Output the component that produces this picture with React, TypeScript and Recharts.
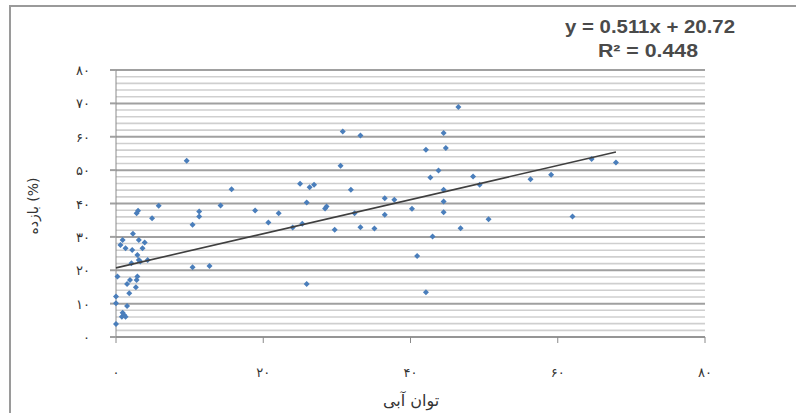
import React from 'react';
import { ScatterChart, Scatter, XAxis, YAxis, CartesianGrid, ReferenceLine } from 'recharts';

// توان آبی (x) and بازده (%) (y)
const powerX = [
  0, 0.8, 1.3, 1.1, 0.9, 1.5, 0, 0, 1.8, 2.7, 1.5, 1.9, 2.8, 2.9, 0.2, 2.1, 3.1, 4.3, 3.3, 2.9,
  3.6, 1.3, 2.2, 0.6, 3.9, 0.9, 3.1, 2.3, 2.8, 3.0, 4.9, 5.8,
  9.6, 10.4, 11.3, 11.3, 10.4, 12.7, 14.2, 15.7, 18.9, 20.7, 22.1, 24.0, 25.3, 25.9, 25.0, 26.3, 26.9, 25.9,
  28.6, 28.4, 29.7, 30.5, 30.8, 31.9, 32.4, 33.2, 33.2, 35.1, 36.5, 37.8, 36.5, 40.2, 40.9, 42.1, 42.1, 42.7,
  43.0, 43.8, 44.5, 44.8, 44.5, 44.5, 44.5, 46.5, 46.8, 48.5, 49.4, 50.6, 56.3, 59.1, 62.0, 64.6, 67.9,
];
const efficiencyY = [
  3.9, 6.1, 6.1, 6.6, 7.3, 9.3, 10.1, 12.1, 13.1, 14.9, 15.9, 17.1, 17.1, 18.1, 18.1, 22.1, 23.1, 23.1, 22.6, 24.6,
  26.6, 26.6, 26.1, 27.6, 28.3, 29.1, 29.1, 30.9, 37.1, 37.8, 35.6, 39.3,
  52.8, 33.6, 37.6, 36.1, 20.9, 21.3, 39.4, 44.3, 37.9, 34.3, 37.1, 32.8, 33.9, 40.3, 45.9, 44.9, 45.6, 15.9,
  39.1, 38.5, 32.1, 51.3, 61.6, 44.1, 37.1, 60.4, 32.9, 32.5, 41.6, 41.1, 36.6, 38.4, 24.3, 13.4, 56.1, 47.8,
  30.1, 49.9, 61.1, 56.6, 44.1, 40.6, 37.4, 68.9, 32.6, 48.1, 45.6, 35.3, 47.3, 48.6, 36.1, 53.3, 52.3,
];

const trendSlope = 0.511;
const trendIntercept = 20.72;
const trendXRange = [0, 67.9];
const equationText = 'y = 0.511x + 20.72';
const r2Text = 'R² = 0.448';

const xTicks = [0, 20, 40, 60, 80];
const yTicks = [0, 10, 20, 30, 40, 50, 60, 70, 80];
const minorY = [2, 4, 6, 8, 12, 14, 16, 18, 22, 24, 26, 28, 32, 34, 36, 38, 42, 44, 46, 48, 52, 54, 56, 58, 62, 64, 66, 68, 72, 74, 76, 78];

const xTitle = 'توان آبی';
const yTitle = 'بازده (%)';

const points = powerX.map((x, i) => ({ x, y: efficiencyY[i] }));
const trendData = trendXRange.map((x) => ({ x, y: trendSlope * x + trendIntercept }));

const persianDigits = ['۰', '۱', '۲', '۳', '۴', '۵', '۶', '۷', '۸', '۹'];
const toPersian = (v: number) => String(v).replace(/[0-9]/g, (d) => persianDigits[Number(d)]);

const FONT = '"DejaVu Sans", sans-serif';
const EQ_FONT = '"Liberation Sans Narrow", "Liberation Sans", sans-serif';

const XTick = (props: any) => {
  const { x, y, payload } = props;
  return (
    <text x={x} y={y + 32} textAnchor="middle" fontFamily={FONT} fontSize={13} fill="#333">
      {toPersian(payload.value)}
    </text>
  );
};

const YTick = (props: any) => {
  const { x, y, payload } = props;
  return (
    <text x={x - 18} y={y + 5} textAnchor="end" fontFamily={FONT} fontSize={13} fill="#333">
      {toPersian(payload.value)}
    </text>
  );
};

const Diamond = (props: any) => {
  const { cx, cy } = props;
  if (cx == null || cy == null) return <g />;
  const r = 3;
  return <path d={`M${cx},${cy - r}L${cx + r},${cy}L${cx},${cy + r}L${cx - r},${cy}Z`} fill="#4a7ebb" />;
};

export default function App() {
  return (
    <div style={{ position: 'absolute', left: 0, top: 0, width: 796, height: 413, overflow: 'hidden', background: '#fff' }}>
      <div
        style={{
          position: 'absolute',
          left: 9,
          top: 5,
          width: 800,
          height: 420,
          borderLeft: '2px solid #9a9a9a',
          borderTop: '2px solid #9a9a9a',
        }}
      />
      <div style={{ position: 'absolute', left: 0, top: 0 }}>
        <ScatterChart width={796} height={413} margin={{ top: 70, right: 91, bottom: 46, left: 0 }}>
          <CartesianGrid vertical={false} stroke="#a0a0a0" strokeWidth={2} />
          {minorY.map((v) => (
            <ReferenceLine key={v} y={v} stroke="#cfcfcf" strokeWidth={1.6} />
          ))}
          <XAxis
            type="number"
            dataKey="x"
            domain={[0, 80]}
            ticks={xTicks}
            height={30}
            tick={<XTick />}
            tickSize={6}
            axisLine={{ stroke: '#8a8a8a' }}
            tickLine={{ stroke: '#8a8a8a' }}
          />
          <YAxis
            type="number"
            dataKey="y"
            domain={[0, 80]}
            ticks={yTicks}
            width={116}
            tick={<YTick />}
            tickSize={6}
            axisLine={{ stroke: '#8a8a8a' }}
            tickLine={{ stroke: '#a0a0a0', strokeWidth: 2 }}
          />
          <Scatter data={points} shape={<Diamond />} isAnimationActive={false} />
          <Scatter
            data={trendData}
            line={{ stroke: '#3f3f3f', strokeWidth: 1.6 }}
            shape={() => <g />}
            isAnimationActive={false}
          />
          <text x={650} y={33} textAnchor="middle" fontFamily={EQ_FONT} fontSize={18} fontWeight="bold" fill="#4a4a4a" textLength={170} lengthAdjust="spacingAndGlyphs">
            {equationText}
          </text>
          <text x={648} y={57} textAnchor="middle" fontFamily={EQ_FONT} fontSize={18} fontWeight="bold" fill="#4a4a4a" textLength={100} lengthAdjust="spacingAndGlyphs">
            {r2Text}
          </text>
          <text x={411} y={406} textAnchor="middle" fontFamily={FONT} fontSize={16} fill="#333">
            {xTitle}
          </text>
          <text
            x={34}
            y={206}
            textAnchor="middle"
            fontFamily={FONT}
            fontSize={14}
            fill="#333"
            transform="rotate(-90 34 206)"
            dominantBaseline="middle"
          >
            {yTitle}
          </text>
        </ScatterChart>
      </div>
    </div>
  );
}
